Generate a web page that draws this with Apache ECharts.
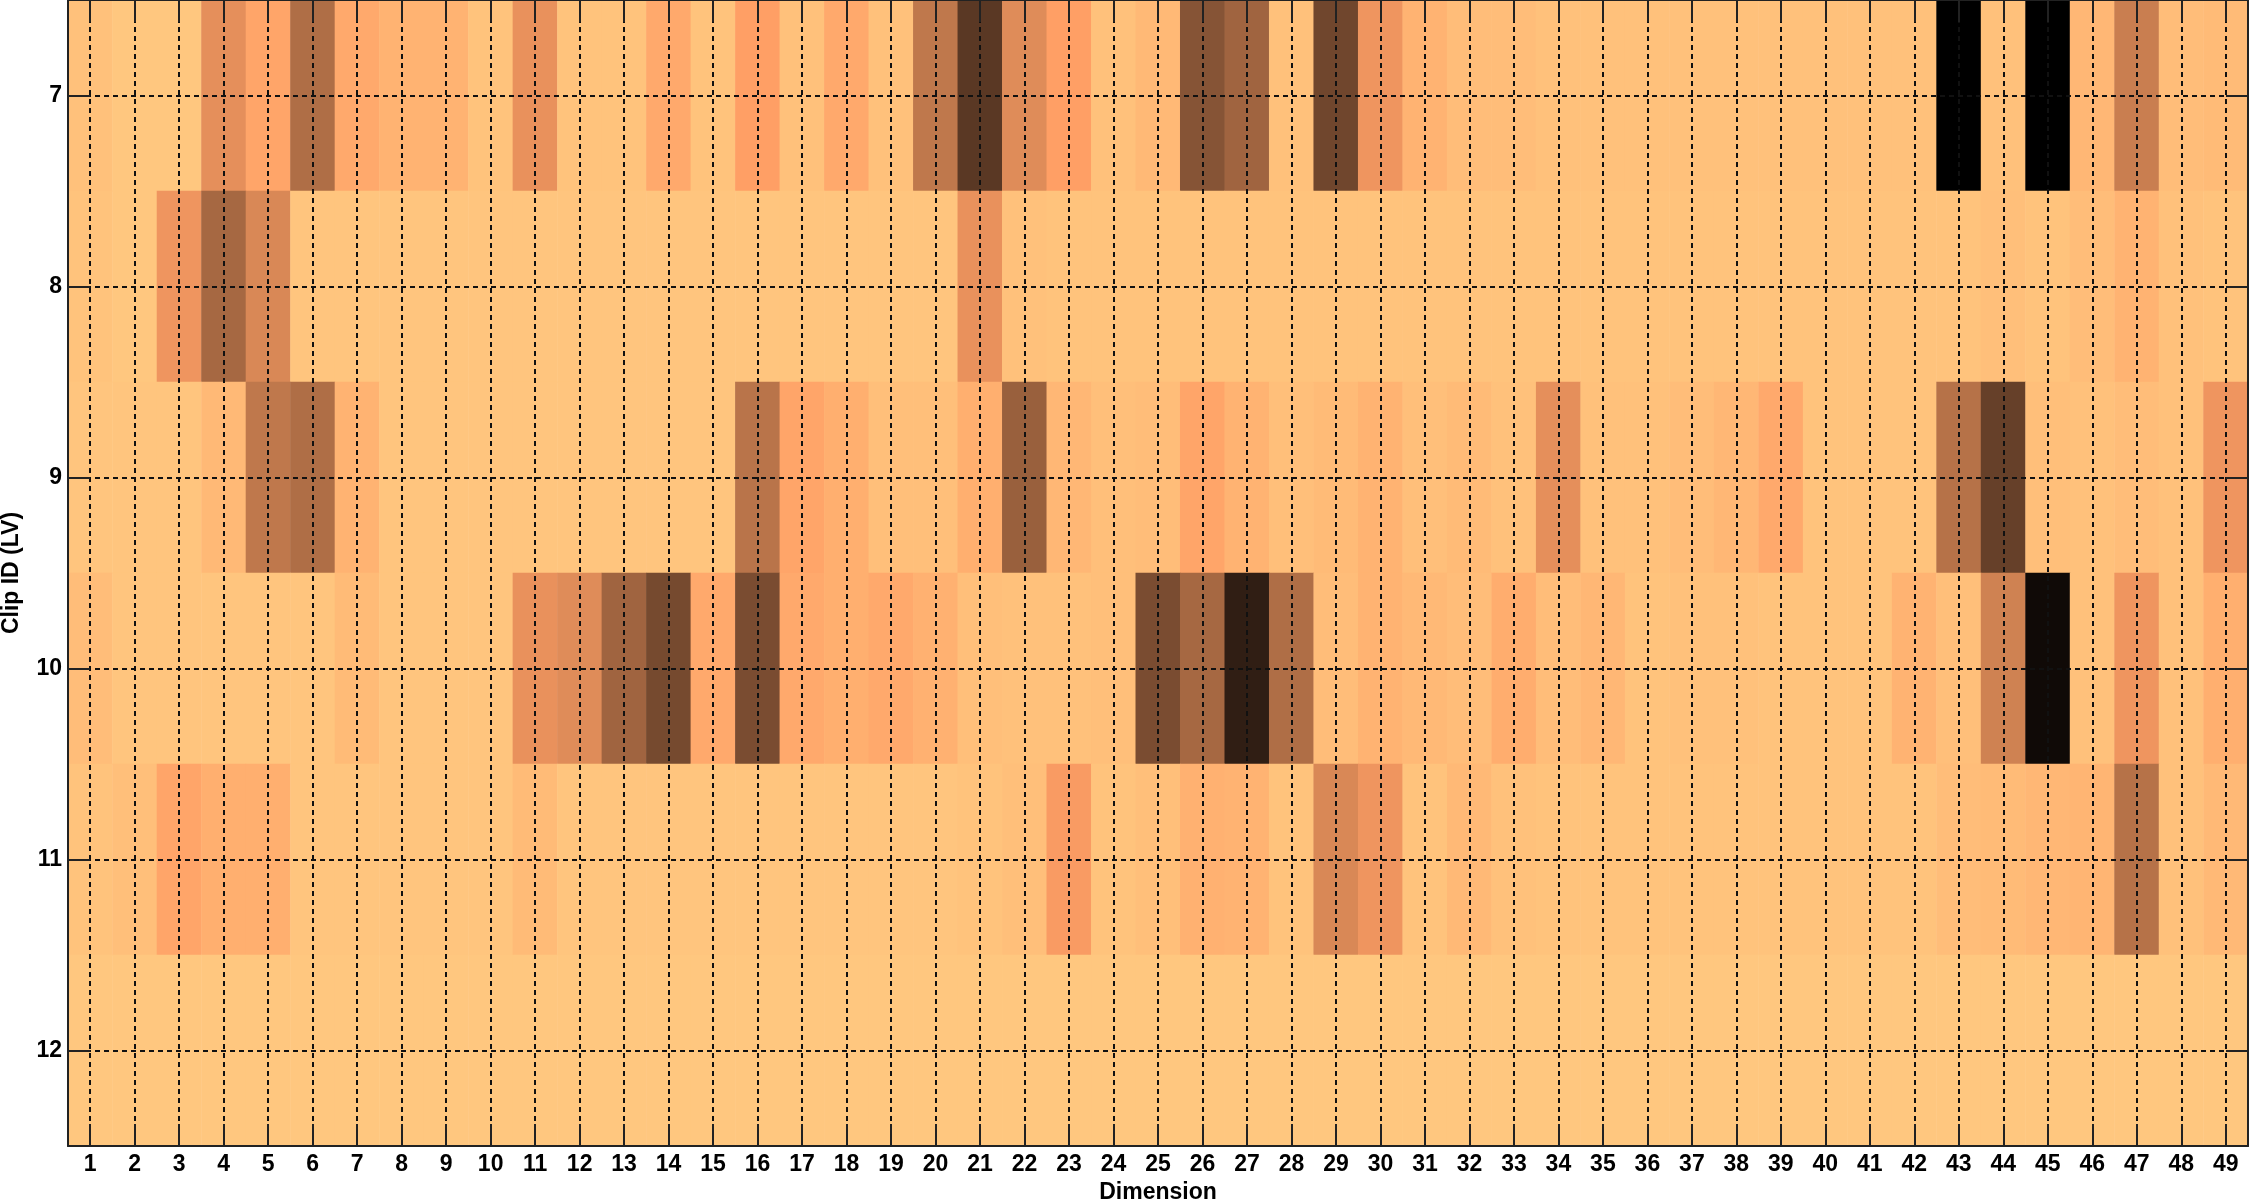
<!DOCTYPE html>
<html>
<head>
<meta charset="utf-8">
<script src="https://cdn.jsdelivr.net/npm/echarts@6/dist/echarts.min.js"></script>
<style>
  body { margin: 0; background: #fff; }
</style>
</head>
<body>
<div id="heat" style="width: 2250px;height:1200px;"></div>
<script>
// column labels (Dimension) and row labels (Clip ID)
var dims = ['1', '2', '3', '4', '5', '6', '7', '8', '9', '10', '11', '12', '13', '14', '15', '16', '17', '18', '19', '20',
  '21', '22', '23', '24', '25', '26', '27', '28', '29', '30', '31', '32', '33', '34', '35', '36', '37', '38', '39', '40',
  '41', '42', '43', '44', '45', '46', '47', '48', '49']
var clips = ['7', '8', '9', '10', '11', '12']

// values per clip, one per dimension (0 = light, 1 = black)
var clip7 = [0.03, 0, 0, 0.28, 0.17, 0.45, 0.15, 0.1, 0.1, 0.02,
  0.27, 0.02, 0.02, 0.15, 0.02, 0.2, 0.03, 0.15, 0.03, 0.4,
  0.72, 0.3, 0.2, 0.03, 0.07, 0.58, 0.5, 0.03, 0.65, 0.25,
  0.1, 0.05, 0.05, 0.03, 0.03, 0.03, 0.03, 0.03, 0.03, 0.03,
  0.03, 0.03, 1, 0.03, 1, 0.08, 0.37, 0.05, 0.06]
var clip8 = [0.02, 0, 0.25, 0.48, 0.32, 0.01, 0.01, 0.01, 0.01, 0.01,
  0.01, 0.01, 0.01, 0.01, 0.01, 0.01, 0.01, 0.01, 0.01, 0.01,
  0.27, 0.03, 0.02, 0.02, 0.02, 0.02, 0.02, 0.02, 0.02, 0.02,
  0.02, 0.02, 0.02, 0.02, 0.02, 0.02, 0.02, 0.02, 0.02, 0.02,
  0.02, 0.02, 0.02, 0.04, 0.02, 0.05, 0.1, 0.03, 0.02]
var clip9 = [0.01, 0.01, 0.01, 0.07, 0.4, 0.45, 0.1, 0.01, 0.01, 0.01,
  0.01, 0.01, 0.01, 0.01, 0.01, 0.42, 0.17, 0.12, 0.04, 0.04,
  0.12, 0.52, 0.08, 0.04, 0.05, 0.17, 0.1, 0.04, 0.06, 0.1,
  0.04, 0.06, 0.03, 0.28, 0.03, 0.03, 0.05, 0.08, 0.15, 0.02,
  0.02, 0.02, 0.43, 0.68, 0.04, 0.03, 0.05, 0.03, 0.25]
var clip10 = [0.05, 0.01, 0.01, 0.01, 0.01, 0.01, 0.06, 0.01, 0.01, 0.01,
  0.27, 0.3, 0.5, 0.63, 0.15, 0.62, 0.15, 0.12, 0.15, 0.11,
  0.04, 0.03, 0.03, 0.04, 0.62, 0.48, 0.85, 0.45, 0.05, 0.1,
  0.07, 0.05, 0.13, 0.05, 0.08, 0.02, 0.03, 0.03, 0.02, 0.02,
  0.02, 0.1, 0.04, 0.35, 0.95, 0.03, 0.25, 0.03, 0.12]
var clip11 = [0.02, 0.04, 0.17, 0.12, 0.12, 0.01, 0.01, 0.01, 0.01, 0.01,
  0.06, 0.01, 0.01, 0.01, 0.01, 0.01, 0.01, 0.01, 0.01, 0.01,
  0.02, 0.04, 0.22, 0.02, 0.04, 0.11, 0.1, 0.02, 0.32, 0.25,
  0.02, 0.07, 0.03, 0.02, 0.02, 0.02, 0.02, 0.02, 0.02, 0.02,
  0.02, 0.02, 0.05, 0.06, 0.08, 0.09, 0.43, 0.03, 0.07]
var clip12 = [0, 0, 0, 0, 0, 0, 0, 0, 0, 0,
  0, 0, 0, 0, 0, 0, 0, 0, 0, 0,
  0, 0, 0, 0, 0, 0, 0, 0, 0, 0,
  0, 0, 0, 0, 0, 0, 0, 0, 0, 0,
  0, 0, 0, 0, 0, 0, 0, 0, 0]

var rows = [clip7, clip8, clip9, clip10, clip11, clip12]
var data = []
rows.forEach(function (row, yi) {
  row.forEach(function (v, xi) {
    data.push([xi, yi, v])
  })
})

// dashed grid at every tick (like matlab "grid on")
var gridLines = []
dims.forEach(function (d) { gridLines.push({ xAxis: d }) })
clips.forEach(function (c) { gridLines.push({ yAxis: c }) })

var font = 'Liberation Sans'
var chart = echarts.init(document.getElementById('heat'))

var tick = { show: true, inside: true, length: 22, alignWithLabel: true, lineStyle: { color: '#222', width: 2 } }
var line = { show: true, onZero: false, lineStyle: { color: '#222', width: 2 } }

var option = {
  animation: false,
  grid: { left: 68, right: 2, top: 0, bottom: 54, outerBoundsMode: 'none' },
  xAxis: [
    {
      type: 'category',
      data: dims,
      position: 'bottom',
      z: 10,
      name: 'Dimension',
      nameLocation: 'middle',
      nameGap: 32,
      nameTextStyle: { fontFamily: font, fontWeight: 'bold', fontSize: 23, color: '#000' },
      axisLine: line,
      axisTick: tick,
      axisLabel: { fontFamily: font, fontWeight: 'bold', fontSize: 23, color: '#000', margin: 7, interval: 0 },
      splitLine: { show: false }
    },
    {
      type: 'category',
      data: dims,
      position: 'top',
      z: 10,
      axisLine: line,
      axisTick: tick,
      axisLabel: { show: false },
      splitLine: { show: false }
    }
  ],
  yAxis: [
    {
      type: 'category',
      data: clips,
      inverse: true,
      position: 'left',
      z: 10,
      name: 'Clip ID (LV)',
      nameLocation: 'middle',
      nameGap: 45,
      nameTextStyle: { fontFamily: font, fontWeight: 'bold', fontSize: 23, color: '#000' },
      axisLine: line,
      axisTick: tick,
      axisLabel: { fontFamily: font, fontWeight: 'bold', fontSize: 23, color: '#000', margin: 6 },
      splitLine: { show: false }
    },
    {
      type: 'category',
      data: clips,
      inverse: true,
      position: 'right',
      z: 10,
      axisLine: line,
      axisTick: tick,
      axisLabel: { show: false },
      splitLine: { show: false }
    }
  ],
  visualMap: {
    show: false,
    min: 0,
    max: 1,
    dimension: 2,
    seriesIndex: 0,
    // flipped matlab copper
    inRange: { color: ['#FFC77F', '#FF9F65', '#BF784C', '#805033', '#40281A', '#000000'] }
  },
  series: [
    {
      type: 'heatmap',
      xAxisIndex: 0,
      yAxisIndex: 0,
      data: data,
      itemStyle: { borderWidth: 0 },
      emphasis: { disabled: true },
      markLine: {
        silent: true,
        symbol: ['none', 'none'],
        label: { show: false },
        lineStyle: { color: '#111', width: 2, type: [5, 4] },
        data: gridLines
      }
    }
  ]
}
chart.setOption(option)
</script>
</body>
</html>
